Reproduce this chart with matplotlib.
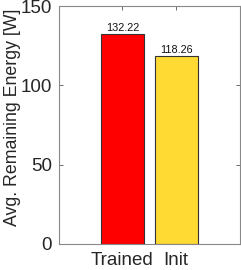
import matplotlib
matplotlib.use("Agg")
import matplotlib.pyplot as plt

categories = ["Trained", "Init"]
values = [132.22, 118.26]
colors = ["#FF0000", "#FFDA33"]
yticks = [0, 50, 100, 150]

plt.rcParams['font.family'] = ['Liberation Sans', 'DejaVu Sans']

fig = plt.figure(figsize=(2.41, 2.70), dpi=100)
ax = fig.add_axes([0.245, 0.0963, 0.749, 0.881])

x = [1, 2]
bars = ax.bar(x, values, width=0.8, color=colors, edgecolor="#333333", linewidth=0.8, zorder=2)
for xi, v in zip(x, values):
    ax.text(xi, v + 0.8, f"{v:.2f}", ha="center", va="bottom", fontsize=7.8, color="#111111")

ax.set_xlim(-0.18, 3.18)
ax.set_ylim(0, 150)
ax.set_yticks(yticks)
ax.set_xticks(x)
ax.set_xticklabels(categories)
ax.tick_params(axis="both", direction="in", length=3, width=0.6, color="#555555",
               labelsize=13.5, labelcolor="#262626", top=True, right=True)
ax.tick_params(axis="x", pad=6)
ax.tick_params(axis="y", pad=5)
for s in ax.spines.values():
    s.set_color("#888888")
    s.set_linewidth(0.8)
ax.set_ylabel("Avg. Remaining Energy [W]", fontsize=12.8, color="#262626")
ax.yaxis.set_label_coords(-0.213, 0.534)

fig.savefig("out.png", dpi=100)
